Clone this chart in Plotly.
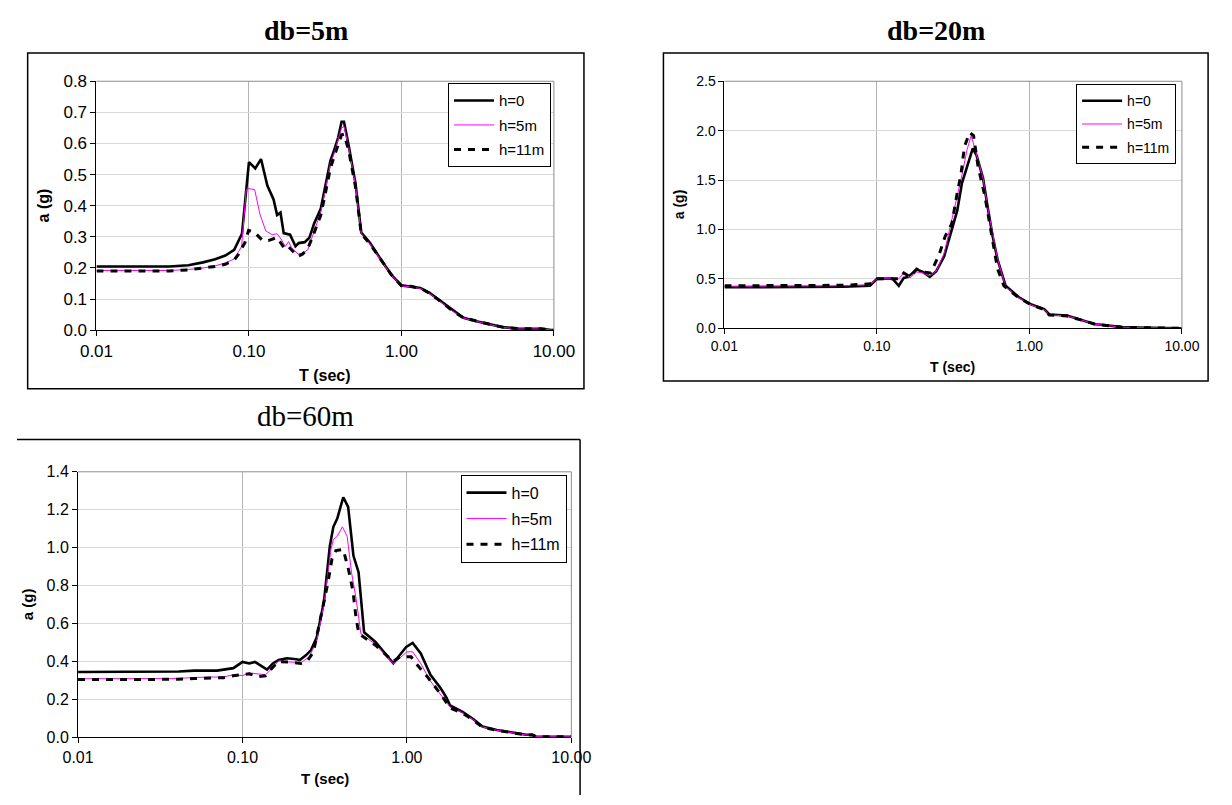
import plotly.graph_objects as go

# ---------------- data ----------------
# db = 5m
T1_h0 = [0.01, 0.02, 0.03, 0.04, 0.05, 0.06, 0.07, 0.08, 0.09, 0.1, 0.11, 0.12, 0.132, 0.145, 0.153, 0.161, 0.169, 0.186, 0.202, 0.212, 0.232, 0.249, 0.268, 0.296, 0.32, 0.342, 0.36, 0.385, 0.405, 0.42, 0.45, 0.5, 0.545, 0.62, 0.75, 0.86, 1.0, 1.15, 1.33, 1.53, 1.8, 2.17, 2.55, 3.1, 3.8, 4.6, 5.9, 8.2, 10]
A1_h0 = [0.205, 0.205, 0.205, 0.209, 0.218, 0.228, 0.24, 0.258, 0.31, 0.54, 0.52, 0.55, 0.465, 0.42, 0.37, 0.378, 0.312, 0.307, 0.27, 0.28, 0.283, 0.297, 0.344, 0.391, 0.47, 0.544, 0.575, 0.62, 0.67, 0.67, 0.596, 0.471, 0.314, 0.282, 0.22, 0.178, 0.144, 0.141, 0.136, 0.12, 0.094, 0.063, 0.04, 0.029, 0.019, 0.01, 0.005, 0.005, 0.0]
T1_h5 = [0.01, 0.02, 0.03, 0.04, 0.05, 0.06, 0.07, 0.08, 0.0895, 0.096, 0.0995, 0.109, 0.118, 0.129, 0.142, 0.153, 0.164, 0.173, 0.182, 0.19, 0.21, 0.225, 0.243, 0.26, 0.296, 0.32, 0.342, 0.36, 0.385, 0.405, 0.42, 0.45, 0.5, 0.545, 0.62, 0.75, 0.86, 1.0, 1.15, 1.33, 1.53, 1.8, 2.17, 2.55, 3.1, 3.8, 4.6, 5.9, 8.2, 10]
A1_h5 = [0.192, 0.192, 0.192, 0.195, 0.2, 0.207, 0.216, 0.229, 0.269, 0.452, 0.455, 0.452, 0.373, 0.319, 0.307, 0.31, 0.29, 0.269, 0.285, 0.265, 0.245, 0.248, 0.258, 0.3, 0.38, 0.46, 0.535, 0.565, 0.61, 0.65, 0.655, 0.59, 0.465, 0.31, 0.278, 0.218, 0.176, 0.142, 0.14, 0.134, 0.118, 0.092, 0.061, 0.039, 0.028, 0.018, 0.009, 0.004, 0.004, 0.0]
T1_h11 = [0.01, 0.02, 0.03, 0.04, 0.05, 0.06, 0.07, 0.08, 0.085, 0.094, 0.0995, 0.109, 0.123, 0.134, 0.153, 0.171, 0.18, 0.21, 0.225, 0.243, 0.26, 0.296, 0.32, 0.342, 0.36, 0.385, 0.405, 0.42, 0.45, 0.5, 0.545, 0.62, 0.75, 0.86, 1.0, 1.15, 1.33, 1.53, 1.8, 2.17, 2.55, 3.1, 3.8, 4.6, 5.9, 8.2, 10]
A1_h11 = [0.19, 0.19, 0.19, 0.194, 0.199, 0.205, 0.212, 0.225, 0.243, 0.281, 0.321, 0.314, 0.288, 0.288, 0.298, 0.263, 0.27, 0.237, 0.245, 0.263, 0.297, 0.37, 0.45, 0.52, 0.555, 0.6, 0.628, 0.63, 0.58, 0.46, 0.31, 0.278, 0.22, 0.178, 0.143, 0.141, 0.135, 0.119, 0.093, 0.062, 0.04, 0.029, 0.019, 0.01, 0.005, 0.005, 0.0]

# db = 20m
T2_h0 = [0.01, 0.02, 0.04, 0.06, 0.09, 0.10, 0.126, 0.139, 0.15, 0.16, 0.182, 0.2, 0.222, 0.245, 0.276, 0.312, 0.336, 0.361, 0.398, 0.425, 0.45, 0.496, 0.533, 0.574, 0.618, 0.698, 0.848, 1.03, 1.25, 1.35, 1.76, 2.25, 2.7, 3.2, 4.0, 5.0, 6.5, 10]
A2_h0 = [0.415, 0.415, 0.415, 0.42, 0.43, 0.5, 0.504, 0.43, 0.51, 0.52, 0.596, 0.57, 0.52, 0.578, 0.73, 1.02, 1.19, 1.47, 1.68, 1.82, 1.75, 1.52, 1.22, 0.93, 0.695, 0.43, 0.316, 0.24, 0.195, 0.14, 0.13, 0.08, 0.04, 0.03, 0.012, 0.008, 0.004, 0.0]
T2_h5 = [0.01, 0.02, 0.04, 0.06, 0.09, 0.10, 0.126, 0.139, 0.15, 0.165, 0.182, 0.2, 0.222, 0.245, 0.276, 0.305, 0.336, 0.361, 0.39, 0.415, 0.44, 0.496, 0.533, 0.574, 0.618, 0.698, 0.848, 1.03, 1.25, 1.35, 1.76, 2.25, 2.7, 3.2, 4.0, 5.0, 6.5, 10]
A2_h5 = [0.425, 0.425, 0.425, 0.43, 0.44, 0.5, 0.5, 0.5, 0.563, 0.51, 0.57, 0.56, 0.53, 0.58, 0.76, 1.05, 1.35, 1.55, 1.81, 1.95, 1.81, 1.52, 1.22, 0.96, 0.7, 0.42, 0.31, 0.235, 0.19, 0.135, 0.125, 0.078, 0.04, 0.028, 0.012, 0.007, 0.004, 0.0]
T2_h11 = [0.01, 0.02, 0.04, 0.06, 0.08, 0.09, 0.10, 0.126, 0.139, 0.15, 0.165, 0.182, 0.2, 0.225, 0.255, 0.28, 0.31, 0.336, 0.355, 0.375, 0.405, 0.43, 0.46, 0.51, 0.55, 0.574, 0.618, 0.68, 0.848, 1.03, 1.25, 1.35, 1.76, 2.25, 2.7, 3.2, 4.0, 5.0, 6.5, 10]
A2_h11 = [0.43, 0.43, 0.43, 0.435, 0.445, 0.45, 0.5, 0.5, 0.5, 0.56, 0.52, 0.6, 0.57, 0.56, 0.74, 0.93, 1.06, 1.37, 1.55, 1.84, 1.98, 1.95, 1.64, 1.34, 1.05, 0.87, 0.6, 0.43, 0.31, 0.235, 0.19, 0.135, 0.125, 0.078, 0.04, 0.028, 0.012, 0.007, 0.004, 0.0]

# db = 60m
T3_h0 = [0.01, 0.02, 0.041, 0.051, 0.07, 0.088, 0.1, 0.11, 0.119, 0.141, 0.153, 0.166, 0.186, 0.213, 0.223, 0.244, 0.261, 0.283, 0.313, 0.34, 0.357, 0.377, 0.41, 0.439, 0.473, 0.508, 0.549, 0.644, 0.738, 0.826, 0.905, 0.99, 1.084, 1.214, 1.39, 1.6, 1.74, 1.83, 2.18, 2.54, 2.88, 3.52, 4.3, 5.3, 5.8, 6.1, 10]
A3_h0 = [0.345, 0.345, 0.347, 0.352, 0.352, 0.365, 0.398, 0.39, 0.398, 0.357, 0.39, 0.408, 0.417, 0.412, 0.408, 0.434, 0.46, 0.528, 0.717, 1.01, 1.11, 1.154, 1.266, 1.215, 0.957, 0.871, 0.554, 0.503, 0.443, 0.391, 0.434, 0.477, 0.498, 0.443, 0.33, 0.26, 0.21, 0.168, 0.134, 0.096, 0.057, 0.039, 0.027, 0.014, 0.014, 0.004, 0.003]
T3_h5 = [0.01, 0.02, 0.04, 0.051, 0.077, 0.088, 0.1, 0.11, 0.138, 0.152, 0.166, 0.19, 0.227, 0.255, 0.283, 0.313, 0.345, 0.357, 0.377, 0.405, 0.433, 0.46, 0.49, 0.525, 0.644, 0.826, 0.905, 1.0, 1.084, 1.21, 1.39, 1.65, 1.83, 2.18, 2.54, 2.88, 3.52, 4.3, 5.3, 5.8, 6.1, 10]
A3_h5 = [0.309, 0.309, 0.31, 0.316, 0.319, 0.33, 0.326, 0.34, 0.33, 0.365, 0.404, 0.398, 0.394, 0.425, 0.51, 0.7, 0.99, 1.043, 1.06, 1.11, 1.06, 0.871, 0.734, 0.546, 0.49, 0.388, 0.42, 0.451, 0.451, 0.391, 0.297, 0.211, 0.16, 0.13, 0.093, 0.055, 0.038, 0.026, 0.013, 0.012, 0.004, 0.003]
T3_h11 = [0.01, 0.02, 0.04, 0.051, 0.077, 0.088, 0.1, 0.11, 0.125, 0.138, 0.153, 0.166, 0.19, 0.227, 0.25, 0.27, 0.3, 0.33, 0.35, 0.37, 0.41, 0.44, 0.47, 0.49, 0.51, 0.644, 0.826, 0.905, 1.06, 1.16, 1.33, 1.6, 1.83, 2.18, 2.54, 2.88, 3.52, 4.3, 5.3, 5.8, 6.1, 10]
A3_h11 = [0.305, 0.305, 0.306, 0.31, 0.315, 0.325, 0.33, 0.335, 0.32, 0.325, 0.37, 0.4, 0.397, 0.39, 0.408, 0.45, 0.64, 0.81, 0.94, 0.985, 0.99, 0.89, 0.77, 0.632, 0.546, 0.486, 0.4, 0.425, 0.425, 0.38, 0.32, 0.23, 0.155, 0.128, 0.09, 0.053, 0.037, 0.025, 0.013, 0.012, 0.004, 0.003]

SERIES_NAMES = ["h=0", "h=5m", "h=11m"]
PANEL_TITLES = ["<b>db=5m</b>", "<b>db=20m</b>", "db=60m"]
X_TICKVALS = [0.01, 0.1, 1, 10]
X_TICKTEXT = ["0.01", "0.10", "1.00", "10.00"]
X_TITLE = "T (sec)"
Y_TITLE = "a (g)"

# ---------------- layout helpers ----------------
W, H = 1232, 805
def px_x(v):
    return v / W
def px_y(v):
    return 1 - v / H

ARIAL = "Arial, Liberation Sans, sans-serif"
TIMES = "Times New Roman, Liberation Serif, serif"

panels = [
    dict(data=[(T1_h0, A1_h0), (T1_h5, A1_h5), (T1_h11, A1_h11)],
         plot=(82, 554, 74, 329), yr=[0, 0.8], dt=0.1, tick=17, leg=15,
         legpos=(551, 76), title=PANEL_TITLES[0], tsize=28, tpos=(298, 22),
         ytl=(27, 201), xtl=(318, 375), atitle=16),
    dict(data=[(T2_h0, A2_h0), (T2_h5, A2_h5), (T2_h11, A2_h11)],
         plot=(730, 1202, 74, 327), yr=[0, 2.5], dt=0.5, tick=14, leg=14,
         legpos=(1196, 77), title=PANEL_TITLES[1], tsize=28, tpos=(948, 22),
         ytl=(683, 200), xtl=(965, 367), atitle=14),
    dict(data=[(T3_h0, A3_h0), (T3_h5, A3_h5), (T3_h11, A3_h11)],
         plot=(63, 572, 474, 746), yr=[0, 1.4], dt=0.2, tick=16, leg=16,
         legpos=(567, 477), title=PANEL_TITLES[2], tsize=29, tpos=(298, 417),
         ytl=(11, 610), xtl=(318, 788), atitle=15),
]

styles = [
    dict(color="black", width=2.6),
    dict(color="#FF00FF", width=1),
    dict(color="black", width=3, dash="7px,7px"),
]

fig = go.Figure()
layout = dict(width=W, height=H, margin=dict(l=0, r=0, t=0, b=0),
              paper_bgcolor="white", plot_bgcolor="white", showlegend=True)
annotations = []
shapes = []

for i, p in enumerate(panels):
    n = "" if i == 0 else str(i + 1)
    xa, ya = "x" + n, "y" + n
    lg = "legend" + n
    x0, x1, y0, y1 = p["plot"]
    for (t, a), name, st, k in zip(p["data"], SERIES_NAMES, styles, range(3)):
        fig.add_trace(go.Scatter(x=t, y=a, mode="lines", name=name, line=st,
                                 xaxis=xa, yaxis=ya, legend=lg,
                                 legendgroup=f"g{i}{k}"))
    layout["xaxis" + n] = dict(
        domain=[px_x(x0), px_x(x1)], anchor=ya, type="log", range=[-2, 1],
        tickvals=X_TICKVALS, ticktext=X_TICKTEXT,
        showgrid=True, gridcolor="#b4b4b4", gridwidth=1,
        showline=True, linecolor="black", linewidth=1,
        ticks="outside", ticklen=5, tickcolor="black",
        tickfont=dict(family=ARIAL, size=p["tick"], color="black"), zeroline=False)
    layout["yaxis" + n] = dict(
        domain=[px_y(y1), px_y(y0)], anchor=xa, range=p["yr"], dtick=p["dt"],
        tick0=0, tickformat=".1f",
        showgrid=True, gridcolor="#d9d9d9", gridwidth=1,
        showline=True, linecolor="black", linewidth=1,
        ticks="outside", ticklen=5, tickcolor="black",
        tickfont=dict(family=ARIAL, size=p["tick"], color="black"), zeroline=False)
    layout[lg] = dict(
        x=px_x(p["legpos"][0]), y=px_y(p["legpos"][1]), xanchor="right", yanchor="top",
        bgcolor="white", bordercolor="black", borderwidth=1,
        font=dict(family=ARIAL, size=p["leg"], color="black"),
        tracegroupgap=2, itemwidth=40)
    # gray top/right plot area border
    shapes.append(dict(type="line", xref=xa + " domain", yref=ya + " domain",
                       x0=0, x1=1, y0=1, y1=1, line=dict(color="#8c8c8c", width=1)))
    shapes.append(dict(type="line", xref=xa + " domain", yref=ya + " domain",
                       x0=1, x1=1, y0=0, y1=1, line=dict(color="#8c8c8c", width=1)))
    # titles
    annotations.append(dict(text=p["title"], xref="paper", yref="paper",
                            x=px_x(p["tpos"][0]), y=px_y(p["tpos"][1]),
                            xanchor="center", yanchor="middle", showarrow=False,
                            font=dict(family=TIMES, size=p["tsize"], color="black")))
    annotations.append(dict(text="<b>" + Y_TITLE + "</b>", xref="paper", yref="paper",
                            x=px_x(p["ytl"][0]), y=px_y(p["ytl"][1]), textangle=-90,
                            xanchor="center", yanchor="middle", showarrow=False,
                            font=dict(family=ARIAL, size=p["atitle"], color="black")))
    annotations.append(dict(text="<b>" + X_TITLE + "</b>", xref="paper", yref="paper",
                            x=px_x(p["xtl"][0]), y=px_y(p["xtl"][1]),
                            xanchor="center", yanchor="middle", showarrow=False,
                            font=dict(family=ARIAL, size=p["atitle"], color="black")))

# chart frames
shapes.append(dict(type="rect", xref="paper", yref="paper",
                   x0=px_x(11), x1=px_x(585), y0=px_y(389), y1=px_y(45),
                   line=dict(color="black", width=1.5), layer="below"))
shapes.append(dict(type="rect", xref="paper", yref="paper",
                   x0=px_x(667), x1=px_x(1229), y0=px_y(381), y1=px_y(45),
                   line=dict(color="black", width=1.5), layer="below"))
shapes.append(dict(type="line", xref="paper", yref="paper",
                   x0=0, x1=px_x(581), y0=px_y(441), y1=px_y(441),
                   line=dict(color="black", width=1.5)))
shapes.append(dict(type="line", xref="paper", yref="paper",
                   x0=px_x(581), x1=px_x(581), y0=px_y(441), y1=0,
                   line=dict(color="black", width=1.5)))

layout["annotations"] = annotations
layout["shapes"] = shapes
fig.update_layout(**layout)
fig.write_html(
    "out.html",
    config={"displayModeBar": False},
    post_script="document.body.style.margin='0';document.body.style.overflow='hidden';",
)
